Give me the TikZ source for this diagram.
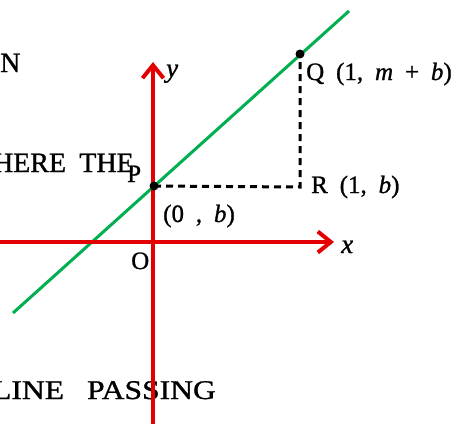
\documentclass[tikz,border=0pt]{standalone}
\usepackage{fontspec}
\setmainfont{Liberation Serif}[WordSpace=1.9,FakeBold=1.0]
\newfontfamily\widefont{Liberation Serif}[FakeStretch=1.17,FakeBold=1.0]
\usetikzlibrary{arrows.meta}
\definecolor{axisred}{RGB}{226,0,0}
\definecolor{linegreen}{RGB}{0,176,80}
\begin{document}
\begin{tikzpicture}[x=1pt,y=-1pt,
  axis/.style={draw=axisred,line width=4pt,-{Straight Barb[length=13pt,width=21pt]}},
  graphline/.style={draw=linegreen,line width=3pt},
  guide/.style={draw=black,line width=3pt,dash pattern=on 7pt off 5pt},
  lbl/.style={inner sep=0pt,anchor=base west,font=\fontsize{25}{25}\selectfont},
  axlbl/.style={inner sep=0pt,anchor=base west,font=\fontsize{27}{27}\selectfont},
  bodytext/.style={inner sep=0pt,font=\fontsize{28}{28}\selectfont},
  dot/.style={fill=black}]
\useasboundingbox (0,0) rectangle (457,423);
\clip (0,0) rectangle (457,423);
% body text fragments
\node[bodytext,anchor=base west] (t1) at (0,72) {N};
\node[bodytext,anchor=base east] (t2) at (134,172) {HERE THE};
\node[inner sep=0pt,anchor=base east,font=\widefont\fontsize{27}{27}\selectfont] (t3) at (216,399) {LINE\hspace{23pt}PASSING};
% coordinates
\coordinate (O) at (153,242);
\coordinate (xs) at (-5,242);
\coordinate (xe) at (334,242);
\coordinate (yt) at (153,62);
\coordinate (yb) at (153,430);
\coordinate (g1) at (13,313);
\coordinate (g2) at (349,11);
\coordinate (P) at (154,186);
\coordinate (Q) at (300,54);
\coordinate (R) at (300,187);
% lines
\draw[graphline] (g1) -- (g2);
\draw[axis] (xs) -- (xe);
\draw[axis] (yb) -- (yt);
\draw[guide] (P) -- (R) -- (Q);
\fill[dot] (P) circle (4.5pt);
\fill[dot] (Q) circle (4.5pt);
% labels
\node[axlbl] (xl) at (341,253) {\textit{x}};
\node[axlbl] (yl) at (166,77) {\textit{y}};
\node[lbl] (Ol) at (131,269) {O};
\node[lbl] (Pl) at (127,182) {P};
\node[lbl] (bl) at (163,222) {(0 , \textit{b})};
\node[lbl] (Ql) at (306,80) {Q (1, \textit{m} + \textit{b})};
\node[lbl] (Rl) at (311,193) {R (1, \textit{b})};
\end{tikzpicture}
\end{document}
